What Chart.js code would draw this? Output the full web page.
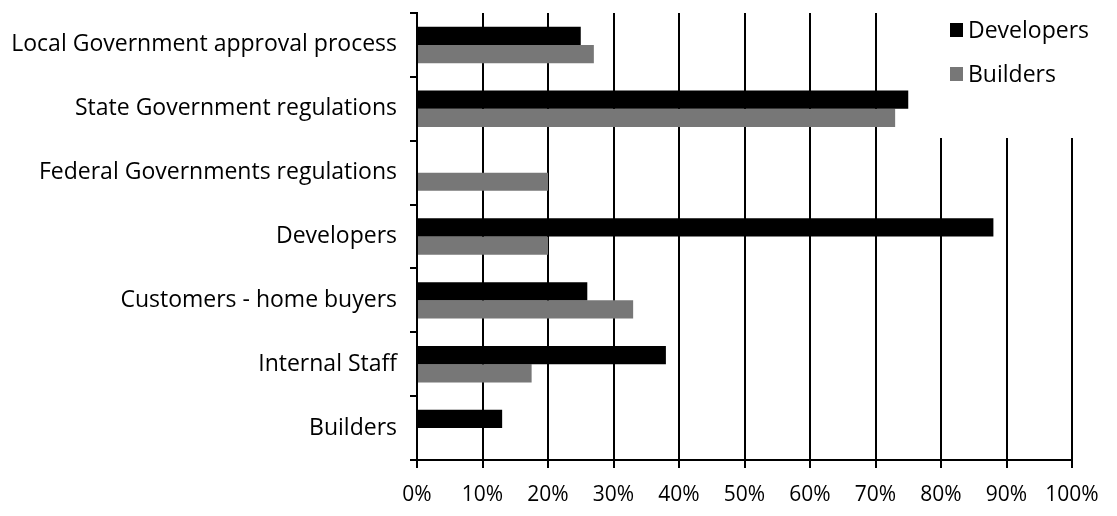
<!DOCTYPE html>
<html>
<head>
<meta charset="utf-8">
<script src="https://cdn.jsdelivr.net/npm/chart.js@4"></script>
<style>
  html, body { margin: 0; padding: 0; background: #fff; }
  #wrap { width: 1117px; height: 516px; }
</style>
</head>
<body>
<div id="wrap"><canvas id="grafico"></canvas></div>
<script>
// Categorias y valores (% de respuestas)
const categorias = [
  "Local Government approval process",
  "State Government regulations",
  "Federal Governments regulations",
  "Developers",
  "Customers - home buyers",
  "Internal Staff",
  "Builders"
];
const developers = [25, 75, 0, 88, 26, 38, 13];
const builders = [27, 73, 20, 20, 33, 17.5, null];
const ticksX = [0, 10, 20, 30, 40, 50, 60, 70, 80, 90, 100];

const fuente = "'Open Sans', 'Noto Sans', sans-serif";

// Leyenda dibujada a mano sobre un recuadro blanco (tapa la grilla)
const leyenda = {
  id: 'leyendaManual',
  afterDatasetsDraw(chart) {
    const ctx = chart.ctx;
    ctx.save();
    ctx.fillStyle = '#fff';
    ctx.fillRect(918, 0, 199, 138);
    ctx.font = `23px ${fuente}`;
    ctx.textBaseline = 'middle';
    chart.data.datasets.forEach((ds, i) => {
      const y = 30 + i * 44;
      ctx.fillStyle = ds.backgroundColor;
      ctx.fillRect(950, y - 7, 13, 14);
      ctx.fillStyle = '#000';
      ctx.fillText(ds.label, 968, y + 1);
    });
    ctx.restore();
  }
};

new Chart(document.getElementById('grafico'), {
  type: 'bar',
  data: {
    labels: categorias,
    datasets: [
      {
        label: 'Developers',
        backgroundColor: '#000000',
        data: developers
      },
      {
        label: 'Builders',
        backgroundColor: '#777777',
        data: builders
      }
    ]
  },
  options: {
    indexAxis: 'y',
    responsive: true,
    maintainAspectRatio: false,
    animation: false,
    categoryPercentage: 0.57,
    barPercentage: 1.0,
    layout: { padding: { top: 13, right: 45, left: 0, bottom: 0 } },
    plugins: {
      legend: { display: false },
      tooltip: { enabled: false }
    },
    scales: {
      x: {
        min: 0,
        max: 100,
        afterBuildTicks(axis) {
          axis.ticks = ticksX.map(v => ({ value: v }));
        },
        afterFit(axis) { axis.height = 56; },
        grid: {
          color: '#000',
          lineWidth: 2,
          tickLength: 8,
          drawTicks: true
        },
        border: { color: '#000', width: 2 },
        ticks: {
          color: '#000',
          padding: 14,
          font: { family: fuente, size: 21 },
          callback: v => v + '%'
        }
      },
      y: {
        afterFit(axis) {
          axis.width = 417;
          axis.paddingTop = 0;
          axis.paddingBottom = 0;
        },
        grid: {
          drawOnChartArea: false,
          color: '#000',
          lineWidth: 2,
          tickLength: 7
        },
        border: { color: '#000', width: 2 },
        ticks: {
          color: '#000',
          padding: 13,
          font: { family: fuente, size: 23 }
        }
      }
    }
  },
  plugins: [leyenda]
});
</script>
</body>
</html>
